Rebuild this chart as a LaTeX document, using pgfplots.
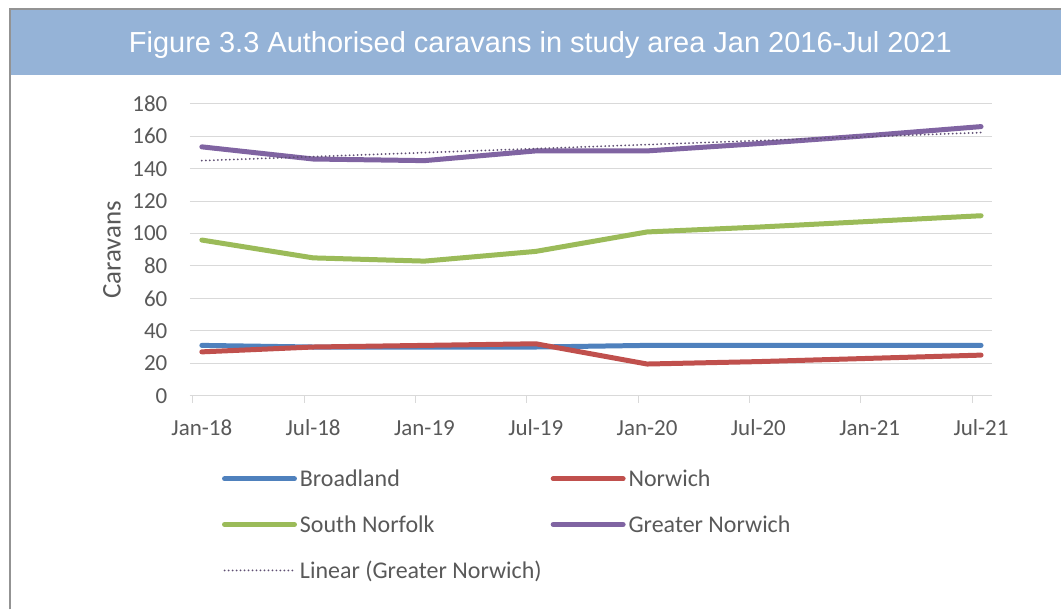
\documentclass[border=0pt]{standalone}
\usepackage{fontspec}
\setmainfont{Carlito}
\newfontfamily\titlefont{Liberation Sans}
\usepackage{pgfplots}
\pgfplotsset{compat=1.18}
\definecolor{bar}{HTML}{95B3D7}
\definecolor{frame}{HTML}{939393}
\definecolor{txt}{HTML}{595959}
\definecolor{grd}{HTML}{D9D9D9}
\definecolor{cB}{HTML}{4F81BD}
\definecolor{cN}{HTML}{C0504D}
\definecolor{cS}{HTML}{9BBB59}
\definecolor{cG}{HTML}{8064A2}
\definecolor{cT}{HTML}{5F4F73}
\begin{document}
\begin{tikzpicture}
\fill[white] (0bp,0bp) rectangle (1062bp,-610bp);
\fill[bar] (10bp,-10bp) rectangle (1062bp,-75bp);
\draw[frame, line width=2bp] (10bp,-610bp) -- (10bp,-9bp) -- (1062bp,-9bp);
\node[anchor=base, text=white, font=\titlefont\fontsize{29bp}{34bp}\selectfont, inner sep=0pt] at (541bp,-52.3bp) {Figure 3.3 Authorised caravans in study area Jan 2016-Jul 2021};
\begin{axis}[
  at={(190bp,-396bp)}, anchor=south west,
  scale only axis, width=803bp, height=292bp,
  xmin=-0.108, xmax=7.099, ymin=0, ymax=180,
  axis x line*=bottom, axis y line*=left,
  y axis line style={draw=none},
  x axis line style={draw=grd, line width=1bp},
  xtick={-0.081,0.919,1.919,2.919,3.919,4.919,5.919,6.919},
  xticklabels={Jan-18,Jul-18,Jan-19,Jul-19,Jan-20,Jul-20,Jan-21,Jul-21},
  xtick align=outside, major tick length=7bp,
  xtick style={draw=grd, line width=1bp},
  ytick={0,20,...,180}, ytick style={draw=none},
  ymajorgrids, grid style={draw=grd, line width=1bp},
  tick label style={font=\fontsize{23bp}{27bp}\selectfont, text=txt},
  /pgf/number format/assume math mode=true,
  xticklabel style={xshift=9bp, yshift=-13bp, text height=16bp, text depth=4bp},
  yticklabel style={xshift=-19bp},
  ylabel={Caravans},
  ylabel style={font=\fontsize{27bp}{32bp}\selectfont, text=txt, at={(axis description cs:-0.097,0.5)}, anchor=center},
  legend columns=2,
  legend cell align=left,
  legend style={at={(axis description cs:0.0399,-0.2466)}, anchor=north west, draw=none, fill=none, inner sep=0pt,
    font=\fontsize{24bp}{28bp}\selectfont, text=txt, row sep=23.5bp,
    /tikz/every odd column/.append style={column sep=1bp},
    /tikz/every even column/.append style={column sep=7bp}},
  legend image code/.code={\draw[#1, line cap=round] (0bp,0bp) -- (70bp,0bp);},
  every axis plot/.append style={line width=5bp, line cap=round, line join=round},
]
\addplot[cB] coordinates {(0,31) (1,30) (2,30) (3,30) (4,31) (5,31) (6,31) (7,31)};
\addlegendentry{Broadland}
\addplot[cN] coordinates {(0,27) (1,30) (2,31) (3,32) (4,19.5) (5,21) (6,23) (7,25)};
\addlegendentry{Norwich}
\addplot[cS] coordinates {(0,96) (1,85) (2,83) (3,89) (4,101) (5,104) (6,107.5) (7,111)};
\addlegendentry{South Norfolk}
\addplot[cG] coordinates {(0,153.5) (1,146) (2,145) (3,151) (4,151) (5,155.5) (6,160.5) (7,166)};
\addlegendentry{Greater Norwich}
\addplot[cT, line width=2bp, line cap=round, dash pattern=on 0bp off 4bp] coordinates {(0,145.0) (7,162.3)};
\addlegendentry{Linear (Greater Norwich)}
\end{axis}
\end{tikzpicture}
\end{document}
